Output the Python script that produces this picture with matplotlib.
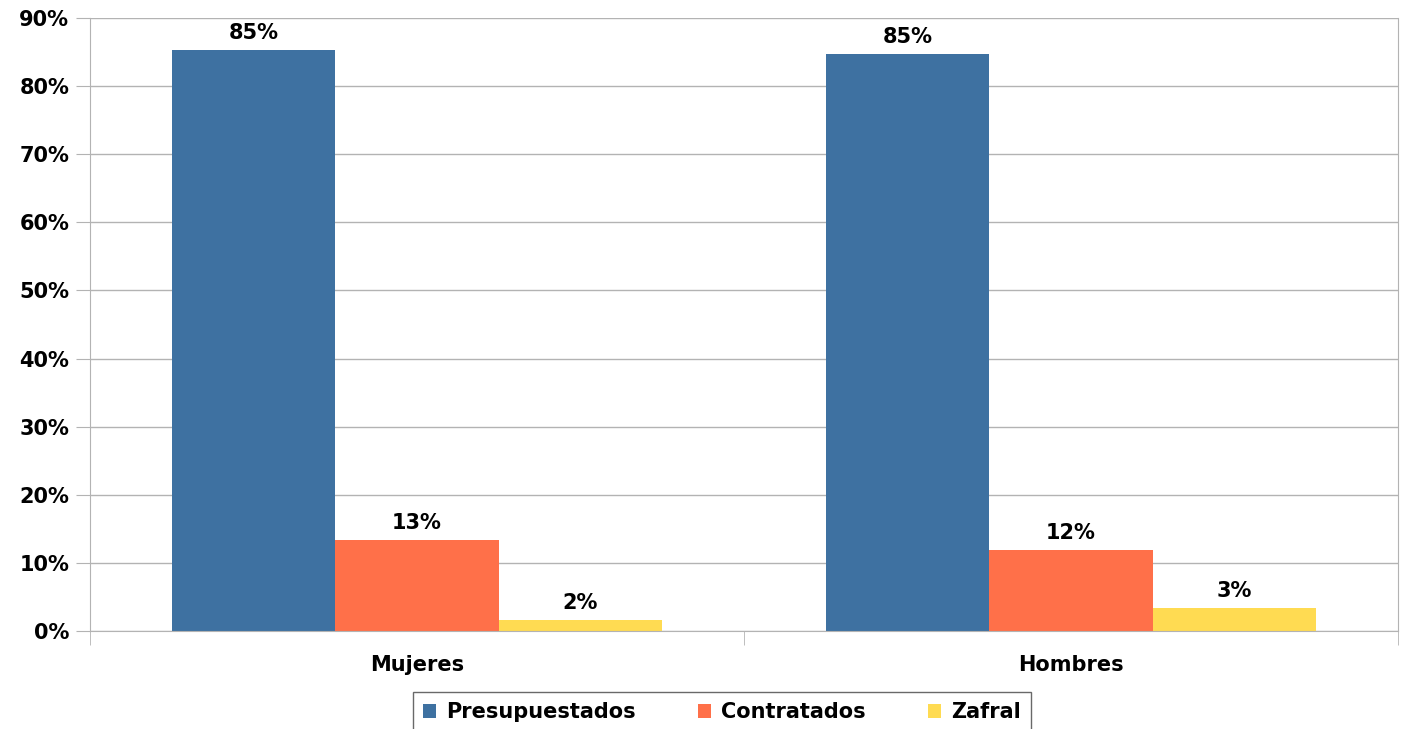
# Personal por tipo de contrato y sexo

import matplotlib.pyplot as plt
import numpy as np

categories = ['Mujeres', 'Hombres']
series_names = ['Presupuestados', 'Contratados', 'Zafral']
presupuestados = [85.3, 84.7]
contratados = [13.4, 11.9]
zafral = [1.6, 3.4]
labels = [['85%', '85%'], ['13%', '12%'], ['2%', '3%']]
colors = ['#3e71a1', '#ff7049', '#ffdb52']

plt.rcParams['font.family'] = 'DejaVu Sans'
plt.rcParams['font.weight'] = 'bold'
fs = 15

fig = plt.figure(figsize=(14.06, 7.29), dpi=100)
ax = fig.add_axes([0.064, 0.1344, 0.9304, 0.8409])

x = np.arange(len(categories))
width = 0.25
data = [presupuestados, contratados, zafral]
for i, vals in enumerate(data):
    bars = ax.bar(x + (i - 1) * width, vals, width, color=colors[i],
                  label=series_names[i], zorder=2)
    for b, lab in zip(bars, labels[i]):
        ax.annotate(lab, (b.get_x() + b.get_width() / 2, b.get_height()),
                    xytext=(0, 5), textcoords='offset points', ha='center', va='bottom',
                    fontsize=fs, fontweight='bold', color='black')

ax.set_xlim(-0.5, 1.5)
ax.set_ylim(0, 90)
ax.set_yticks(np.arange(0, 91, 10))
ax.set_yticklabels([f'{v}%' for v in range(0, 91, 10)], fontsize=fs, fontweight='bold')
ax.set_xticks(x)
ax.set_xticklabels(categories, fontsize=fs, fontweight='bold')
ax.set_xticks([-0.5, 0.5, 1.5], minor=True)
ax.tick_params(axis='x', which='major', length=0, pad=17)
ax.tick_params(axis='x', which='minor', length=10, color='#b3b3b3')
ax.tick_params(axis='y', length=10, color='#b3b3b3', pad=5)
ax.yaxis.grid(True, color='#b3b3b3', linewidth=1, zorder=0)
ax.set_axisbelow(True)
for s in ax.spines.values():
    s.set_color('#b3b3b3')
ax.spines['top'].set_visible(False)

leg = fig.legend(loc='upper center', bbox_to_anchor=(722 / 1406, 0.0508), ncol=3,
                 frameon=True, fancybox=False, edgecolor='#444444', handlelength=0.6,
                 handleheight=0.6, handletextpad=0.5, columnspacing=3.0,
                 prop={'size': fs, 'weight': 'bold'}, borderpad=0.5, borderaxespad=0)
leg.get_frame().set_linewidth(1)

plt.savefig('out.png', dpi=100)
